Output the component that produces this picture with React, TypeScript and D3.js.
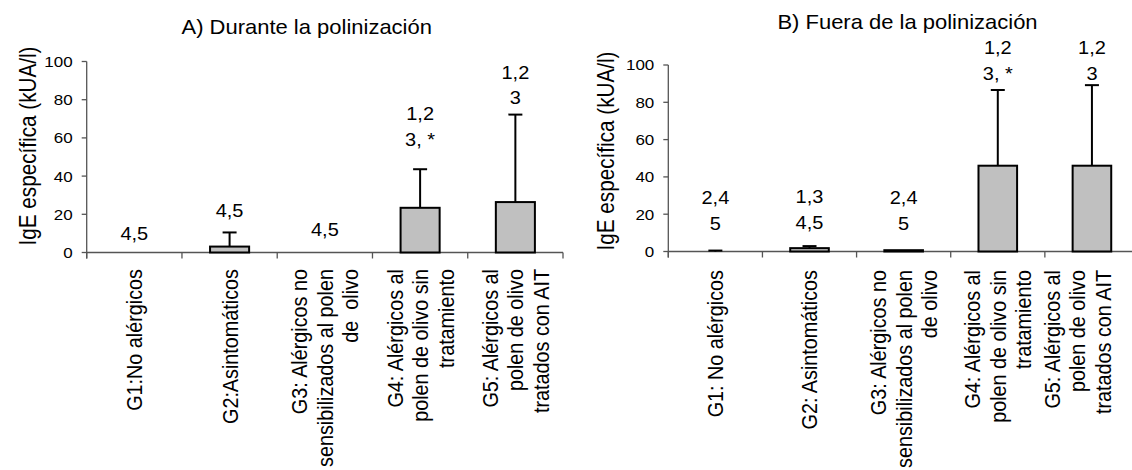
import React from "react";
import * as d3 from "d3";

// Group labels (one entry per line of the rotated category label)
const categoriesA: string[][] = [
  ["G1:No alérgicos"],
  ["G2:Asintomáticos"],
  ["G3: Alérgicos no", "sensibilizados al polen", "de  olivo"],
  ["G4: Alérgicos al", "polen de olivo sin", "tratamiento"],
  ["G5: Alérgicos al", "polen de olivo", "tratados con AIT"],
];
const categoriesB: string[][] = [
  ["G1: No alérgicos"],
  ["G2: Asintomáticos"],
  ["G3: Alérgicos no", "sensibilizados al polen", "de olivo"],
  ["G4: Alérgicos al", "polen de olivo sin", "tratamiento"],
  ["G5: Alérgicos al", "polen de olivo", "tratados con AIT"],
];

// Specific IgE (kUA/l): mean and SD per group
const meanA = [0, 3.1, 0, 23.4, 26.4];
const sdA = [0, 7.4, 0, 20.2, 45.8];
const meanB = [0, 1.8, 0.7, 46, 46];
const sdB = [0.5, 1.1, 0, 40.6, 43.2];

// Significance annotations and the value at which their lowest line sits
const sigA: string[][] = [["4,5"], ["4,5"], ["4,5"], ["1,2", "3, *"], ["1,2", "3"]];
const sigB: string[][] = [["2,4", "5"], ["1,3", "4,5"], ["2,4", "5"], ["1,2", "3, *"], ["1,2", "3"]];
const sigLevelA = [6.5, 18.7, 8.6, 55.8, 77.7];
const sigLevelB = [11.6, 12.1, 11.6, 92.2, 92.2];

const yTicks = [0, 20, 40, 60, 80, 100];
const titleA = "A) Durante la polinización";
const titleB = "B) Fuera de la polinización";
const yLabel = "IgE específica (kUA/l)";

const W = 1132;
const H = 470;
const SY = 0.9; // glyphs are slightly wider than tall
const FONT = "'Liberation Sans', Arial, sans-serif";
const AXIS = "#555";

type Layout = {
  x0: number; x1: number; yTop: number; yBot: number;
  titleX: number; titleY: number; ylabX: number; ylabY: number; catTop: number;
};

const layoutA: Layout = { x0: 86.7, x1: 563, yTop: 61.5, yBot: 252.5, titleX: 306.7, titleY: 34, ylabX: 36, ylabY: 146, catTop: 269 };
const layoutB: Layout = { x0: 668.3, x1: 1139, yTop: 65, yBot: 251.5, titleX: 907.5, titleY: 29, ylabX: 614, ylabY: 151, catTop: 270 };

function Txt(props: { x: number; y: number; size: number; anchor?: string; rotate?: boolean; dy?: number; children: React.ReactNode }) {
  const { x, y, size, anchor = "middle", rotate = false, dy = 0, children } = props;
  return (
    <g transform={`translate(${x},${y}) scale(1,${SY})${rotate ? " rotate(-90)" : ""}`}>
      <text x={0} y={dy} fontSize={size} textAnchor={anchor} fontFamily={FONT} fill="#000" style={{ whiteSpace: "pre" }}>
        {children}
      </text>
    </g>
  );
}

function Panel(props: {
  L: Layout; cats: string[][]; mean: number[]; sd: number[]; sig: string[][]; sigLevel: number[]; title: string;
}) {
  const { L, cats, mean, sd, sig, sigLevel, title } = props;
  const idx = cats.map((_, i) => String(i));
  const x = d3.scaleBand<string>().domain(idx).range([L.x0, L.x1]).padding(0);
  const y = d3.scaleLinear().domain([0, 100]).range([L.yBot, L.yTop]);
  const bw = x.step() * 0.41;
  const cap = 14;
  const lineStep = 25.5;
  const catFs = 22;
  const maxLineX = W - 29; // keep the last label column inside the canvas

  const boundaries = idx.map((k) => x(k)!).concat([L.x1]);

  return (
    <g>
      <Txt x={L.titleX} y={L.titleY} size={22}>{title}</Txt>
      <Txt x={L.ylabX} y={L.ylabY} size={23} rotate>{yLabel}</Txt>

      {/* y axis */}
      <line x1={L.x0} x2={L.x0} y1={L.yTop} y2={L.yBot + 6} stroke={AXIS} strokeWidth={1.3} />
      {yTicks.map((t) => (
        <g key={t}>
          <line x1={L.x0 - 5} x2={L.x0} y1={y(t)} y2={y(t)} stroke={AXIS} strokeWidth={1.3} />
          <Txt x={L.x0 - 14} y={y(t)} size={17} anchor="end" dy={6}>{t}</Txt>
        </g>
      ))}

      {/* x axis */}
      <line x1={L.x0} x2={L.x1} y1={L.yBot} y2={L.yBot} stroke={AXIS} strokeWidth={1.3} />
      {boundaries.map((b, i) => (
        <line key={i} x1={b} x2={b} y1={L.yBot} y2={L.yBot + 6} stroke={AXIS} strokeWidth={1.3} />
      ))}

      {/* bars and error bars */}
      {idx.map((k, i) => {
        const cx = x(k)! + x.bandwidth() / 2;
        const top = y(mean[i]);
        return (
          <g key={k}>
            {mean[i] > 0 && (
              <rect x={cx - bw / 2} y={top} width={bw} height={L.yBot - top} fill="#c0c0c0" stroke="#000" strokeWidth={2} />
            )}
            {sd[i] > 0 && (
              <g stroke="#000" strokeWidth={2}>
                <line x1={cx} x2={cx} y1={top} y2={y(mean[i] + sd[i])} />
                <line x1={cx - cap / 2} x2={cx + cap / 2} y1={y(mean[i] + sd[i])} y2={y(mean[i] + sd[i])} />
              </g>
            )}
          </g>
        );
      })}

      {/* significance labels */}
      {idx.map((k, i) => {
        const cx = x(k)! + x.bandwidth() / 2;
        const base = y(sigLevel[i]);
        const n = sig[i].length;
        return (
          <g key={k}>
            {sig[i].map((s, j) => (
              <Txt key={j} x={cx} y={base - (n - 1 - j) * lineStep} size={20}>{s}</Txt>
            ))}
          </g>
        );
      })}

      {/* rotated group labels */}
      {idx.map((k, i) => {
        const cx = x(k)! + x.bandwidth() / 2;
        const n = cats[i].length;
        const lastCenter = cx + ((n - 1) / 2) * lineStep;
        const shift = Math.min(0, maxLineX - lastCenter);
        return (
          <g key={k}>
            {cats[i].map((s, j) => (
              <Txt key={j} x={cx + shift + (j - (n - 1) / 2) * lineStep + 0.36 * catFs} y={L.catTop} size={catFs} anchor="end" rotate>
                {s}
              </Txt>
            ))}
          </g>
        );
      })}
    </g>
  );
}

export default function App() {
  return (
    <svg width={W} height={H} style={{ position: "absolute", left: 0, top: 0, background: "#fff" }}>
      <rect width={W} height={H} fill="#fff" />
      <Panel L={layoutA} cats={categoriesA} mean={meanA} sd={sdA} sig={sigA} sigLevel={sigLevelA} title={titleA} />
      <Panel L={layoutB} cats={categoriesB} mean={meanB} sd={sdB} sig={sigB} sigLevel={sigLevelB} title={titleB} />
    </svg>
  );
}
